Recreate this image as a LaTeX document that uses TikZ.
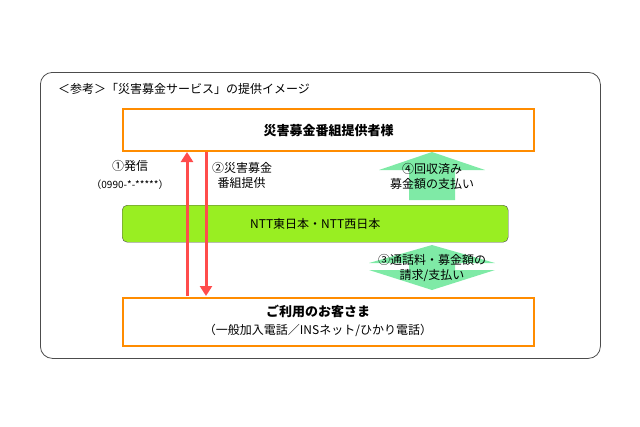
\documentclass[tikz,border=0pt]{standalone}
\usepackage{fontspec}
\setmainfont{Noto Sans CJK JP}
\usetikzlibrary{arrows.meta,shapes.arrows}
\definecolor{ga}{HTML}{7FEAA6}
\definecolor{gb}{HTML}{99EE22}
\begin{document}
\begin{tikzpicture}[x=1pt,y=-1pt,
  obox/.style={draw=orange!90!yellow,line width=2.2pt,fill=white},
  lbl/.style={font=\fontsize{12}{15}\selectfont,align=center,inner sep=0},
  redarr/.style={draw=red!70,line width=3pt,-{Triangle[length=10pt,width=12pt]}},
  garr/.style={fill=ga,draw=none}]
\useasboundingbox (0,0) rectangle (640,426);
\node[draw=gray!60!black,rounded corners=12pt,line width=0.8pt,minimum width=560pt,minimum height=286pt,anchor=north west] (outer) at (40,72) {};
\node[lbl,anchor=west] (title) at (58,89) {＜参考＞「災害募金サービス」の提供イメージ};
\node[obox,minimum width=411pt,minimum height=42pt,anchor=north west] (top) at (122,108) {};
\node[lbl,font=\fontsize{13}{15}\selectfont\bfseries] at (top) {災害募金番組提供者様};
\node[fill=gb,draw=black!70,rounded corners=5pt,minimum width=386pt,minimum height=37pt,anchor=north west] (ntt) at (122,205) {};
\node[lbl] at (ntt) {NTT東日本・NTT西日本};
\node[obox,minimum width=411pt,minimum height=48pt,anchor=north west] (bot) at (122,297) {};
\node[lbl,font=\fontsize{13}{15}\selectfont\bfseries] (b1) at (318,311) {ご利用のお客さま};
\node[lbl] (b2) at (318,330) {（一般加入電話／INSネット/ひかり電話）};
\coordinate (u1) at (187,296);
\coordinate (u2) at (187,152);
\coordinate (d1) at (206,152);
\coordinate (d2) at (206,296);
\draw[redarr] (u1) -- (u2);
\draw[redarr] (d1) -- (d2);
\node[lbl] at (130,166) {①発信};
\node[lbl,font=\fontsize{10}{12}\selectfont] at (130,185) {（0990-*-*****）};
\node[lbl,align=left,anchor=west] at (212,175) {②災害募金\\ \ \ 番組提供};
\fill[garr] (409,200) -- (409,170) -- (379,170) -- (432,152) -- (485,170) -- (455,170) -- (455,200) -- cycle;
\node[lbl] at (432,176) {④回収済み\\募金額の支払い};
\fill[garr] (409,270) -- (369,270) -- (432,290) -- (495,270) -- (455,270) -- (455,263) -- (495,263) -- (432,245) -- (369,263) -- (409,263) -- cycle;
\fill[garr] (409,252) rectangle (455,283);
\node[lbl] at (432,268) {③通話料・募金額の\\請求/支払い};
\end{tikzpicture}
\end{document}
